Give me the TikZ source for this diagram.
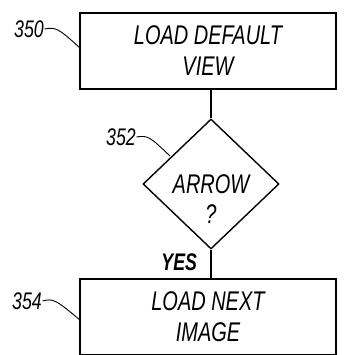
\documentclass[tikz,border=0pt]{standalone}
\usepackage{fontspec}
\setmainfont{Liberation Sans}[FakeStretch=0.74]
\usetikzlibrary{shapes.geometric}

\begin{document}
\begin{tikzpicture}[x=1pt,y=-1pt,line width=1.4pt,
  flowbox/.style={draw,minimum width=256pt,minimum height=76pt,inner sep=0pt,align=center,
    font=\fontsize{27}{31}\selectfont\itshape},
  decide/.style={draw,diamond,minimum width=136pt,minimum height=130pt,inner sep=0pt},
  decidetext/.style={align=center,inner sep=0pt,font=\fontsize{27}{30}\selectfont\itshape},
  refnum/.style={font=\fontsize{24}{26}\selectfont\itshape,inner sep=0pt},
  leader/.style={line width=0.9pt}]
\useasboundingbox (0,0) rectangle (344,355);
\node[flowbox] (view) at (208,51) {LOAD DEFAULT\\VIEW};
\node[decide] (arrow) at (211,184) {};
\node[decidetext] (arrowq) at (211,199) {ARROW\\?};
\node[flowbox] (next) at (208,317) {LOAD NEXT\\IMAGE};
\draw (view.south -| arrow.north) -- (arrow.north);
\draw (arrow.south) -- (arrow.south |- next.north) node[pos=0.45,left=10pt,font=\fontsize{24}{26}\selectfont\bfseries\itshape] (yes) {YES};
% reference numerals
\node[refnum] (n350) at (29,29) {350};
\node[refnum] (n352) at (121,137) {352};
\node[refnum] (n354) at (27,301) {354};
\draw[leader] (n350.east) .. controls (56,27) and (58,28) .. (80,48);
\draw[leader] (n352.east) .. controls (148,135) and (150,137) .. (170,156);
\draw[leader] (n354.east) .. controls (53,298) and (56,300) .. (80,320);
\end{tikzpicture}
\end{document}
